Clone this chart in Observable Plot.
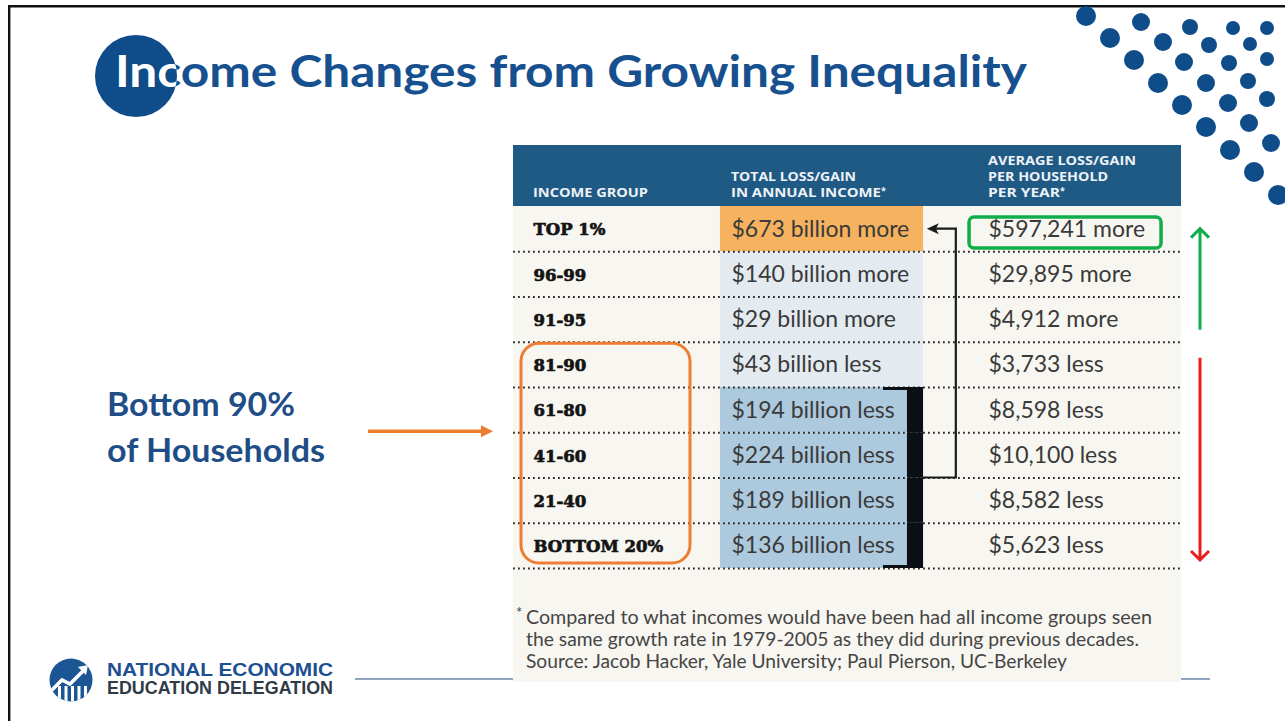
<!DOCTYPE html>
<html><head><meta charset="utf-8">
<script src="https://cdn.jsdelivr.net/npm/d3@7"></script>
<script src="https://cdn.jsdelivr.net/npm/@observablehq/plot@0.6"></script>
<style>
html,body{margin:0;padding:0;background:#fff;}
#slide{position:relative;width:1285px;height:721px;overflow:hidden;background:#fff;}
#bg{position:absolute;left:0;top:0;}
#chart{position:absolute;left:513px;top:206px;}
</style></head><body>
<div id="slide"><svg id="bg" width="1285" height="721"></svg><div id="chart"></div></div>
<script>
// ---------- DATA ----------
const groups = ["TOP 1%","96-99","91-95","81-90","61-80","41-60","21-40","BOTTOM 20%"];
const totalBillions = [673, 140, 29, -43, -194, -224, -189, -136];
const avgDollars = [597241, 29895, 4912, -3733, -8598, -10100, -8582, -5623];
const shadeGroup = ["top","upper","upper","upper","lower","lower","lower","lower"];
const columnKeys = ["group","total","avg"];
const headerLines = [["INCOME GROUP"],["TOTAL LOSS/GAIN","IN ANNUAL INCOME*"],["AVERAGE LOSS/GAIN","PER HOUSEHOLD","PER YEAR*"]];
const titleText = "Income Changes from Growing Inequality";
const sideLabel = ["Bottom 90%","of Households"];
const footnoteLines = [
  "Compared to what incomes would have been had all income groups seen",
  "the same growth rate in 1979-2005 as they did during previous decades.",
  "Source: Jacob Hacker, Yale University; Paul Pierson, UC-Berkeley"
];
const logoLines = ["NATIONAL ECONOMIC","EDUCATION DELEGATION"];

// ---------- TABLE ----------
const fmtTotal = v => "$" + Math.abs(v) + " billion " + (v > 0 ? "more" : "less");
const fmtAvg = v => "$" + d3.format(",")(Math.abs(v)) + " " + (v > 0 ? "more" : "less");
const rows = groups.map((g, i) => ({group: g, total: fmtTotal(totalBillions[i]), avg: fmtAvg(avgDollars[i]), shade: shadeGroup[i]}));
const lowerRows = rows.filter(d => d.shade === "lower");

const W = 668, RH = 362, colW = W / 3;
const cream = "#f8f6f0", ink = "#1b1b1b";

const plot = Plot.plot({
  width: W, height: RH + 4,
  marginTop: 0, marginLeft: 0, marginRight: 0, marginBottom: 4,
  style: {overflow: "visible", background: "transparent"},
  x: {type: "band", domain: columnKeys, padding: 0, round: false, axis: null},
  y: {type: "band", domain: groups, padding: 0, round: false, axis: null},
  color: {domain: ["top","upper","lower"], range: ["#f6b25e","#e3ebf0","#adc9de"]},
  marks: [
    Plot.cell(rows, {x: () => "total", y: "group", fill: "shade", insetLeft: -15.7, insetRight: 35.3}),
    Plot.ruleY(groups, {y: d => d, dy: RH / groups.length / 2, stroke: "#2b2b2b", strokeWidth: 2, strokeDasharray: "1.8,3.2"}),
    Plot.cell(lowerRows, {x: () => "total", y: "group", fill: "#0c1016", insetLeft: 171.3, insetRight: 35.3}),
    Plot.cell([lowerRows[0]], {x: () => "total", y: "group", fill: "#0c1016", insetLeft: 147.3, insetRight: 35.3, insetBottom: RH / groups.length - 3}),
    Plot.cell([lowerRows[lowerRows.length - 1]], {x: () => "total", y: "group", fill: "#0c1016", insetLeft: 147.3, insetRight: 35.3, insetTop: RH / groups.length - 3}),
    Plot.text(rows, {x: () => "group", y: "group", text: "group", textAnchor: "start", dx: 20 - colW / 2, dy: 1,
      fontFamily: "DejaVu Serif", fontWeight: 700, fontSize: 16.5, fill: "#141414", stroke: "#141414", strokeWidth: 0.7}),
    Plot.text(rows, {x: () => "total", y: "group", text: "total", textAnchor: "start", dx: -4.7 - colW / 2,
      fontFamily: "Lato", fontWeight: 400, fontSize: 23, fill: "#3a3a3a"}),
    Plot.text(rows, {x: () => "avg", y: "group", text: "avg", textAnchor: "start", dx: 29.7 - colW / 2,
      fontFamily: "Lato", fontWeight: 400, fontSize: 23, fill: "#3a3a3a"})
  ]
});
document.getElementById("chart").appendChild(plot);

// decorations tied to the plot's scales
const svg = d3.select(plot);
const xs = plot.scale("x"), ys = plot.scale("y");
const colX = k => xs.apply(k);
const bw = xs.bandwidth ?? colW;
const rowY = g => ys.apply(g);
const rh = ys.bandwidth ?? RH / groups.length;
const tableW = colX(columnKeys[2]) + bw;
const rowsBottom = rowY(groups[groups.length - 1]) + rh;
const headH = 61, footH = 114;

const back = svg.insert("g", ":first-child").attr("text-anchor", "start");
back.append("rect").attr("x", 0).attr("y", -headH).attr("width", tableW).attr("height", headH + rowsBottom + footH).attr("fill", cream);
back.append("rect").attr("x", 0).attr("y", -headH).attr("width", tableW).attr("height", headH).attr("fill", "#1f5a85");
const headOffsets = [20, -4.7, 29.7];
const headLens = [[115],[125,150],[148,120,72]];
headerLines.forEach((lines, c) => {
  lines.forEach((ln, i) => {
    const star = ln.endsWith("*");
    const t = back.append("text")
      .attr("x", colX(columnKeys[c]) + headOffsets[c])
      .attr("y", -9 - (lines.length - 1 - i) * 16)
      .attr("text-anchor", "start")
      .attr("fill", "#eef2f6").attr("font-family", "Open Sans").attr("font-weight", 700).attr("font-size", 12.5);
    t.append("tspan").text(star ? ln.slice(0, -1) : ln).attr("textLength", headLens[c][i]).attr("lengthAdjust", "spacingAndGlyphs");
    if (star) t.append("tspan").text("*").attr("dy", -3).attr("font-size", 9);
  });
});
// footnote
const footG = back.append("g").attr("font-family", "Lato").attr("fill", "#454545").attr("text-anchor", "start");
footG.append("text").attr("x", 3).attr("y", rowsBottom + 50).attr("font-size", 15).text("*");
const footLens = [626, 613, 541];
footnoteLines.forEach((ln, i) => {
  footG.append("text").attr("x", 13).attr("y", rowsBottom + 56 + i * 22).attr("font-size", 19.5)
    .attr("textLength", footLens[i]).attr("lengthAdjust", "spacingAndGlyphs").text(ln);
});

const front = svg.append("g").attr("fill", "none");
// orange box around bottom 90% labels
const yTopB = rowY("81-90"), yBotB = rowsBottom;
front.append("rect").attr("x", colX("group") + 8).attr("y", yTopB + 1.5).attr("width", 169).attr("height", yBotB - 5 - yTopB - 1.5)
  .attr("rx", 18).attr("stroke", "#ed7d31").attr("stroke-width", 3);
// green box around top average
front.append("rect").attr("x", colX("avg") + 10.7).attr("y", rowY("TOP 1%") + 11).attr("width", 192).attr("height", 31)
  .attr("rx", 5).attr("stroke", "#12ad4b").attr("stroke-width", 3.5);
// connector from bracket to top row
const barRight = colX("total") + bw - 35.3;
const jy = rowY("21-40");
const vx = colX("avg") - 2.5;
const topY = rowY("TOP 1%") + rh / 2;
const tipX = colX("total") + bw - 31.5;
front.append("path").attr("d", `M${barRight},${jy}H${vx}V${topY}H${tipX + 8}`).attr("stroke", ink).attr("stroke-width", 2.2);
front.append("path").attr("d", `M${tipX},${topY}L${tipX + 12},${topY - 5.5}L${tipX + 9},${topY}L${tipX + 12},${topY + 5.5}Z`).attr("fill", ink);
// green up arrow & red down arrow on the right
const ax = tableW + 19;
const gTail = rowY("81-90") - 12;
front.append("path").attr("d", `M${ax},${gTail}V${topY}M${ax - 9},${topY + 9}L${ax},${topY}L${ax + 9},${topY + 9}`)
  .attr("stroke", "#12ad4b").attr("stroke-width", 3);
const rTop = rowY("81-90") + 16, rBot = rowsBottom - 8;
front.append("path").attr("d", `M${ax},${rTop}V${rBot}M${ax - 9},${rBot - 9}L${ax},${rBot}L${ax + 9},${rBot - 9}`)
  .attr("stroke", "#ee1c1c").attr("stroke-width", 3);
// orange arrow pointing at the bottom 90% box
const oy = rowY("41-60") - 1;
front.append("path").attr("d", `M-145,${oy}H-30`).attr("stroke", "#ed7d31").attr("stroke-width", 3.5);
front.append("path").attr("d", `M-20,${oy}L-32,${oy - 6}L-32,${oy + 6}Z`).attr("fill", "#ed7d31");

// ---------- SLIDE DECOR ----------
const bg = d3.select("#bg");
const navy = "#0f4c8a";
bg.append("rect").attr("x", 8).attr("y", 5).attr("width", 1285).attr("height", 2.5).attr("fill", "#111");
bg.append("rect").attr("x", 8).attr("y", 5).attr("width", 2.4).attr("height", 721).attr("fill", "#111");
bg.append("line").attr("x1", 355).attr("x2", 1210).attr("y1", 679).attr("y2", 679).attr("stroke", "#6a87ab").attr("stroke-width", 1.5);
const decorDots = [
  [1086,16,10],[1141,22,9],[1190,27,8],[1233,28,7],[1267,28,7],
  [1110,38,10],[1163,42,9],[1209,45,8],[1250,44,7],
  [1134,60,10],[1184,62,9],[1229,63,8],[1267,59,7],
  [1158,83,10],[1206,83,9],[1248,81,8],
  [1182,105,10],[1228,103,9],[1267,99,8],
  [1206,127,10],[1249,123,9],
  [1230,150,10],[1271,143,9],
  [1254,172,10],[1278,195,10]
];
bg.selectAll("circle.dot").data(decorDots).join("circle").attr("class", "dot")
  .attr("cx", d => d[0]).attr("cy", d => d[1]).attr("r", d => d[2]).attr("fill", navy);
// title
const defs = bg.append("defs");
defs.append("clipPath").attr("id", "tclip").append("circle").attr("cx", 136).attr("cy", 76).attr("r", 41);
bg.append("circle").attr("cx", 136).attr("cy", 76).attr("r", 41).attr("fill", navy);
const titleAttrs = s => s.attr("x", 115).attr("y", 87).attr("font-family", "Lato").attr("font-weight", 700).attr("font-size", 43)
  .attr("textLength", 912).attr("lengthAdjust", "spacingAndGlyphs").text(titleText);
bg.append("text").call(titleAttrs).attr("fill", "#17508e");
bg.append("text").call(titleAttrs).attr("fill", "#fff").attr("clip-path", "url(#tclip)");
// side label
const sideLens = [188, 218];
sideLabel.forEach((s, i) => bg.append("text").attr("x", 107).attr("y", 416 + i * 46).attr("font-family", "Lato").attr("font-weight", 700)
  .attr("font-size", 33).attr("fill", "#1f4e87").attr("textLength", sideLens[i]).attr("lengthAdjust", "spacingAndGlyphs").text(s));
// logo
defs.append("clipPath").attr("id", "lclip").append("circle").attr("cx", 71).attr("cy", 680).attr("r", 21.5);
bg.append("circle").attr("cx", 71).attr("cy", 680).attr("r", 21.5).attr("fill", "#1b5594");
const lg = bg.append("g").attr("clip-path", "url(#lclip)");
[58, 64.5, 71, 77.5, 84].forEach(x => lg.append("rect").attr("x", x).attr("y", 686).attr("width", 3).attr("height", 20).attr("fill", "#fff"));
lg.append("path").attr("d", "M46,696L62,680L70,684L84,670").attr("stroke", "#fff").attr("stroke-width", 3.5).attr("fill", "none");
lg.append("path").attr("d", "M88,665L78,667L86,675Z").attr("fill", "#fff");
bg.append("text").attr("x", 107).attr("y", 676).attr("font-family", "Liberation Sans").attr("font-weight", 700).attr("font-size", 18)
  .attr("fill", "#1d4f91").attr("textLength", 226).attr("lengthAdjust", "spacingAndGlyphs").text(logoLines[0]);
bg.append("text").attr("x", 107).attr("y", 694).attr("font-family", "Liberation Sans").attr("font-weight", 700).attr("font-size", 17.5)
  .attr("fill", "#2f3b46").attr("textLength", 226).attr("lengthAdjust", "spacingAndGlyphs").text(logoLines[1]);
</script>
</body></html>
